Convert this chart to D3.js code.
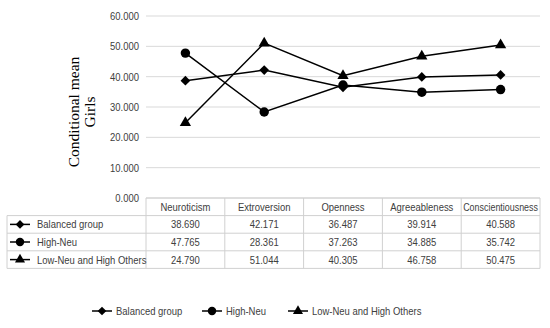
<!DOCTYPE html>
<html>
<head>
<meta charset="utf-8">
<script src="https://cdn.jsdelivr.net/npm/d3@7"></script>
<style>
body { margin: 0; background: white; }
text { font-family: "Liberation Sans", Arial, sans-serif; }
</style>
</head>
<body>
<div id="chart"></div>
<script>
var categories = ["Neuroticism", "Extroversion", "Openness", "Agreeableness", "Conscientiousness"];
var seriesNames = ["Balanced group", "High-Neu", "Low-Neu and High Others"];
var balanced = [38.690, 42.171, 36.487, 39.914, 40.588];
var highNeu = [47.765, 28.361, 37.263, 34.885, 35.742];
var lowNeu = [24.790, 51.044, 40.305, 46.758, 50.475];
var yTicks = [0, 10, 20, 30, 40, 50, 60];

var width = 550, height = 328;
var series = [
  { name: seriesNames[0], values: balanced, shape: d3.symbolDiamond2, size: 60 },
  { name: seriesNames[1], values: highNeu, shape: d3.symbolCircle, size: 70 },
  { name: seriesNames[2], values: lowNeu, shape: d3.symbolTriangle, size: 55 }
];

var svg = d3.select("#chart").append("svg")
    .attr("width", width)
    .attr("height", height);

svg.append("rect").attr("width", "100%").attr("height", "100%").attr("fill", "white");

var plotLeft = 146, plotRight = 540, plotTop = 16, plotBottom = 198;
var rowH = 17.6, tableLeft = 7;

var x = d3.scaleBand().domain(categories).range([plotLeft, plotRight]);
var y = d3.scaleLinear().domain([0, 60]).range([plotBottom, plotTop]);

// squeeze the sans text so it is about as narrow as Calibri
function narrow(sel, maxW) {
  sel.each(function() {
    var w = this.getComputedTextLength() * 0.86;
    if (maxW && w > maxW) w = maxW;
    d3.select(this).attr("textLength", w).attr("lengthAdjust", "spacingAndGlyphs");
  });
}

// gridlines + tick labels
svg.append("g").selectAll("line").data(yTicks).enter().append("line")
    .attr("x1", plotLeft).attr("x2", plotRight)
    .attr("y1", function(d) { return y(d); })
    .attr("y2", function(d) { return y(d); })
    .style("stroke", "#d9d9d9").style("stroke-width", 1);

svg.append("g").selectAll("text").data(yTicks).enter().append("text")
    .attr("x", 139)
    .attr("y", function(d) { return y(d) + 4; })
    .attr("text-anchor", "end")
    .style("font-size", "11px").style("fill", "#404040")
    .text(function(d) { return d3.format(".3f")(d); })
    .call(narrow);

// axis title
var title = svg.append("text")
    .attr("transform", "translate(79,112) rotate(-90)")
    .attr("text-anchor", "middle")
    .style("font-family", "'Liberation Serif', 'Times New Roman', serif")
    .style("font-size", "15.5px").style("fill", "#000");
title.append("tspan").attr("x", 0).attr("dy", 0).text("Conditional mean");
title.append("tspan").attr("x", 0).attr("dy", 16).text("Girls");

// lines and markers
var line = d3.line()
    .x(function(d, i) { return x(categories[i]) + x.bandwidth() / 2; })
    .y(function(d) { return y(d); });

series.forEach(function(s) {
  svg.append("path")
      .datum(s.values)
      .attr("d", line)
      .style("fill", "none").style("stroke", "#000").style("stroke-width", 1.5);
  svg.append("g").selectAll("path").data(s.values).enter().append("path")
      .attr("d", d3.symbol().type(s.shape).size(s.size))
      .attr("transform", function(d, i) {
        return "translate(" + (x(categories[i]) + x.bandwidth() / 2) + "," + y(d) + ")";
      })
      .style("fill", "#000");
});

// data table
var table = svg.append("g");
var tableBottom = plotBottom + rowH * 4;
var bc = "#d0d0d0";

[0, 1, 2, 3, 4].forEach(function(r) {
  table.append("line")
      .attr("x1", r === 0 ? plotLeft : tableLeft).attr("x2", plotRight)
      .attr("y1", plotBottom + rowH * r).attr("y2", plotBottom + rowH * r)
      .style("stroke", bc);
});
table.append("line").attr("x1", tableLeft).attr("x2", tableLeft)
    .attr("y1", plotBottom + rowH).attr("y2", tableBottom).style("stroke", bc);
categories.forEach(function(c) {
  table.append("line").attr("x1", x(c)).attr("x2", x(c))
      .attr("y1", plotBottom).attr("y2", tableBottom).style("stroke", bc);
});
table.append("line").attr("x1", plotRight).attr("x2", plotRight)
    .attr("y1", plotBottom).attr("y2", tableBottom).style("stroke", bc);

// header
table.selectAll("text.head").data(categories).enter().append("text")
    .attr("x", function(d) { return x(d) + x.bandwidth() / 2; })
    .attr("y", plotBottom + rowH / 2 + 4)
    .attr("text-anchor", "middle")
    .style("font-size", "11px").style("fill", "#404040")
    .text(function(d) { return d; })
    .call(narrow, x.bandwidth() - 4);

function legendKey(g, s, cx, cy) {
  g.append("line").attr("x1", cx - 10).attr("x2", cx + 10)
      .attr("y1", cy).attr("y2", cy)
      .style("stroke", "#000").style("stroke-width", 1.5);
  g.append("path").attr("d", d3.symbol().type(s.shape).size(s.size * 0.8))
      .attr("transform", "translate(" + cx + "," + cy + ")")
      .style("fill", "#000");
}

series.forEach(function(s, r) {
  var cy = plotBottom + rowH * (r + 1) + rowH / 2;
  legendKey(table, s, 20, cy);
  table.append("text").attr("x", 37).attr("y", cy + 4)
      .style("font-size", "11px").style("fill", "#404040").text(s.name)
      .call(narrow);
  table.append("g").selectAll("text").data(s.values).enter().append("text")
      .attr("x", function(d, i) { return x(categories[i]) + x.bandwidth() / 2; })
      .attr("y", cy + 4)
      .attr("text-anchor", "middle")
      .style("font-size", "11px").style("fill", "#404040")
      .text(function(d) { return d3.format(".3f")(d); })
      .call(narrow);
});

// bottom legend
var legendX = [102, 212, 298];
series.forEach(function(s, i) {
  var g = svg.append("g");
  legendKey(g, s, legendX[i], 311);
  g.append("text").attr("x", legendX[i] + 14).attr("y", 315)
      .style("font-size", "11px").style("fill", "#404040").text(s.name)
      .call(narrow);
});
</script>
</body>
</html>
